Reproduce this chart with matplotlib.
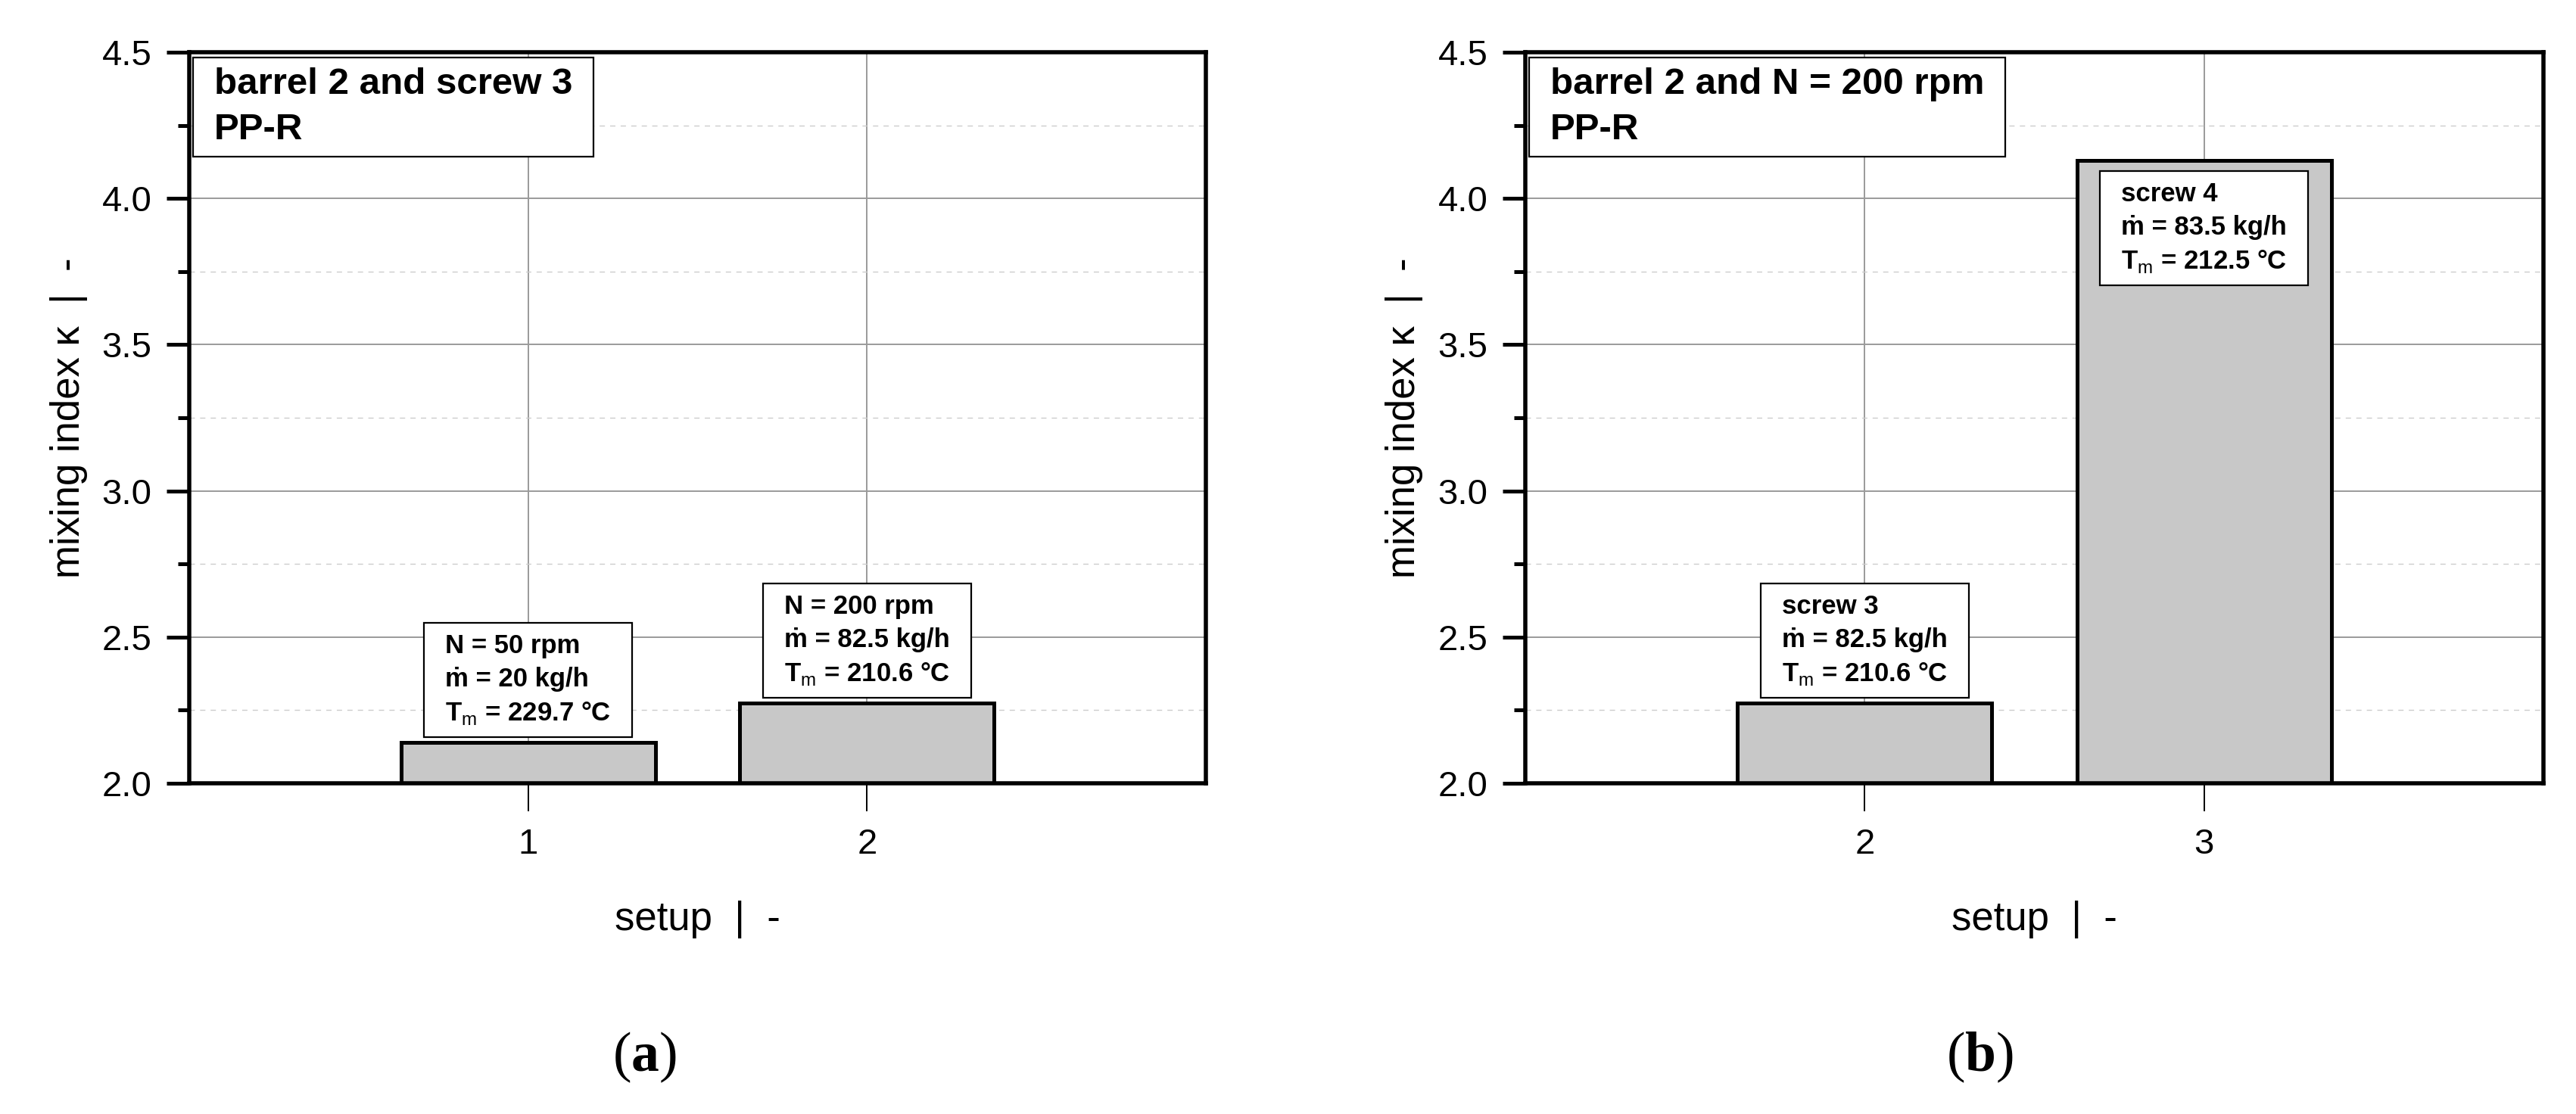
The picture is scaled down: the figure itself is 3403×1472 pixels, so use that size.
import matplotlib
matplotlib.use("Agg")
import matplotlib.pyplot as plt
from matplotlib.patches import Rectangle
from matplotlib.ticker import MultipleLocator

plt.rcParams['font.family'] = ['Liberation Sans', 'DejaVu Sans']
plt.rcParams['mathtext.fontset'] = 'custom'
plt.rcParams['mathtext.sf'] = 'Liberation Sans'
plt.rcParams['mathtext.rm'] = 'Liberation Serif'
plt.rcParams['mathtext.bf'] = 'Liberation Serif:bold'

# data
setups_a = [1, 2]
kappa_a = [2.14, 2.275]
labels_a = ["N = 50 rpm\nṁ = 20 kg/h\nT$_\\mathsf{m}$ = 229.7 °C",
            "N = 200 rpm\nṁ = 82.5 kg/h\nT$_\\mathsf{m}$ = 210.6 °C"]
title_a = "barrel 2 and screw 3\nPP-R"

setups_b = [2, 3]
kappa_b = [2.275, 4.13]
labels_b = ["screw 3\nṁ = 82.5 kg/h\nT$_\\mathsf{m}$ = 210.6 °C",
            "screw 4\nṁ = 83.5 kg/h\nT$_\\mathsf{m}$ = 212.5 °C"]
title_b = "barrel 2 and N = 200 rpm\nPP-R"

W, H = 3403, 1472
fig = plt.figure(figsize=(W / 100, H / 100), dpi=100)
px = 72 / 100  # points per pixel

ax_a = fig.add_axes([250 / W, 1 - 1035 / H, 1343 / W, 966 / H])
ax_b = fig.add_axes([2015 / W, 1 - 1035 / H, 1345 / W, 966 / H])

boxes = []  # (axes, text, padx, pady)


def style_axes(ax, xlim, ticks):
    ax.set_xlim(*xlim)
    ax.set_ylim(2.0, 4.5)
    ax.set_xticks(ticks)
    ax.yaxis.set_major_locator(MultipleLocator(0.5))
    ax.yaxis.set_minor_locator(MultipleLocator(0.25))
    ax.yaxis.set_major_formatter(matplotlib.ticker.FormatStrFormatter('%.1f'))
    ax.set_axisbelow(True)
    ax.grid(which='major', color='#9a9a9a', lw=1.4)
    ax.grid(which='minor', axis='y', color='#cccccc', lw=1.0, linestyle=(0, (5, 5)))
    for s in ax.spines.values():
        s.set_linewidth(5.5 * px)
    ax.tick_params(axis='y', which='major', direction='out', length=30 * px, width=5 * px,
                   labelsize=34, pad=14)
    ax.tick_params(axis='y', which='minor', direction='out', length=15 * px, width=5 * px)
    ax.tick_params(axis='x', which='major', direction='out', length=37 * px, width=2 * px,
                   labelsize=34, pad=16)
    ax.set_xlabel("setup  |  -", fontsize=38)
    ax.xaxis.set_label_coords(0.5, -0.160)
    ax.set_ylabel("mixing index κ  |  -", fontsize=38)
    ax.yaxis.set_label_coords(-0.1, 0.5)


def draw_panel(ax, xs, ys, labels, title):
    ax.bar(xs, ys, width=0.75, bottom=0, color='#c8c8c8', edgecolor='black',
           linewidth=5 * px, zorder=2)
    for x, y, lab in zip(xs, ys, labels):
        if y > 3.5:
            # label sits inside the tall bar
            t = ax.annotate(lab, xy=(x, y), xytext=(0, -(14 + 14) * px),
                            textcoords='offset points', ha='center', va='top',
                            multialignment='left', fontsize=25, fontweight='bold',
                            linespacing=1.41, zorder=6)
        else:
            t = ax.annotate(lab, xy=(x, y), xytext=(0, (7 + 14) * px),
                            textcoords='offset points', ha='center', va='bottom',
                            multialignment='left', fontsize=25, fontweight='bold',
                            linespacing=1.41, zorder=6)
        boxes.append((ax, t, 28, 14))
    t = ax.text(33 / 1343, 1 - 20 / 966, title, transform=ax.transAxes, ha='left', va='top',
                fontsize=35.5, fontweight='bold', linespacing=1.43, zorder=6)
    boxes.append((ax, t, 28, 13))


style_axes(ax_a, (0, 3), setups_a)
style_axes(ax_b, (1, 4), setups_b)
draw_panel(ax_a, setups_a, kappa_a, labels_a, title_a)
draw_panel(ax_b, setups_b, kappa_b, labels_b, title_b)

# white boxes behind the annotation texts
fig.canvas.draw()
r = fig.canvas.get_renderer()
for ax, t, padx, pady in boxes:
    bb = t.get_window_extent(r)
    inv = ax.transAxes.inverted()
    x0, y0 = inv.transform((bb.x0 - padx, bb.y0 - pady))
    x1, y1 = inv.transform((bb.x1 + padx, bb.y1 + pady))
    ax.add_patch(Rectangle((x0, y0), x1 - x0, y1 - y0, transform=ax.transAxes,
                           facecolor='white', edgecolor='black', lw=1.6, zorder=5))

fig.text(851 / W, 1 - 1397 / H, r"($\mathbf{a}$)", ha='center', va='center',
         fontsize=53, family='Liberation Serif')
fig.text(2615 / W, 1 - 1397 / H, r"($\mathbf{b}$)", ha='center', va='center',
         fontsize=53, family='Liberation Serif')

fig.savefig("out.png", dpi=100, facecolor='white')
